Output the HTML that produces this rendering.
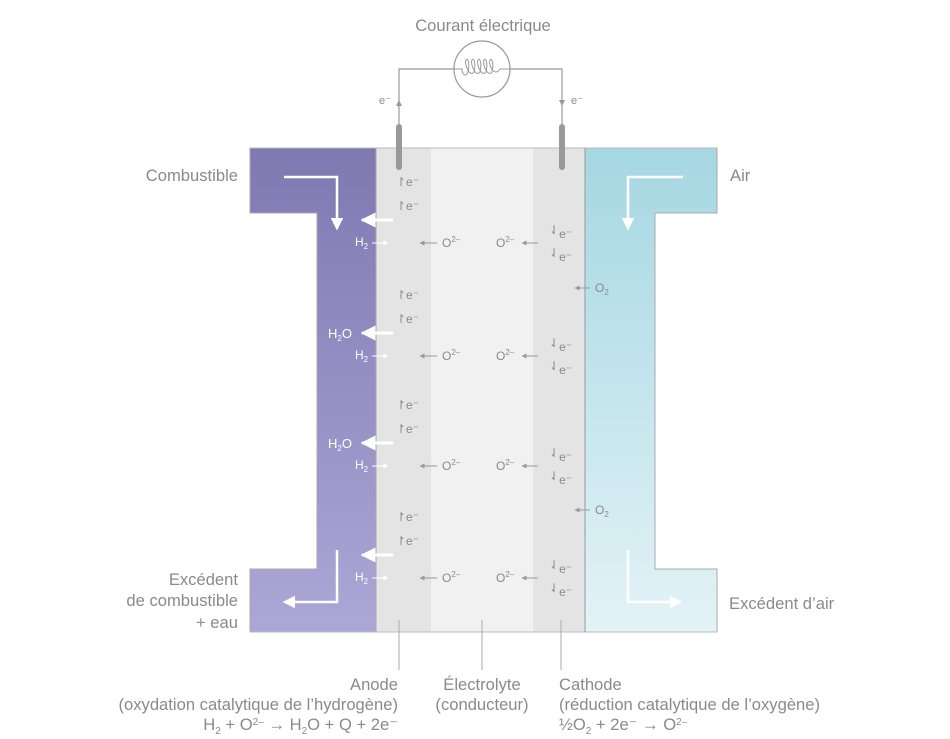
<!DOCTYPE html>
<html><head><meta charset="utf-8"><style>
body{margin:0;background:#fff}
svg{display:block;font-family:"Liberation Sans",sans-serif}
.t{fill:#8a8a8a}
.w{fill:#fff}
.L{font-size:16.6px}
</style></head><body>
<svg width="950" height="739" viewBox="0 0 950 739" xmlns="http://www.w3.org/2000/svg">
<defs>
<linearGradient id="gp" x1="0" y1="148" x2="0" y2="632" gradientUnits="userSpaceOnUse"><stop offset="0" stop-color="#7f79b2"/><stop offset="1" stop-color="#aba7d6"/></linearGradient>
<linearGradient id="gc" x1="0" y1="148" x2="0" y2="632" gradientUnits="userSpaceOnUse"><stop offset="0" stop-color="#a5d7e2"/><stop offset="1" stop-color="#e3f3f7"/></linearGradient>
<marker id="ag" viewBox="0 0 10 10" refX="9" refY="5" markerWidth="5" markerHeight="5" orient="auto"><path d="M0,0L10,5L0,10z" fill="#999"/></marker>
<marker id="aw" viewBox="0 0 10 10" refX="9" refY="5" markerWidth="5" markerHeight="5" orient="auto"><path d="M0,0L10,5L0,10z" fill="#fff"/></marker>
<marker id="aW" viewBox="0 0 10 10" refX="8" refY="5" markerWidth="5" markerHeight="5" orient="auto"><path d="M0,0L10,5L0,10z" fill="#fff"/></marker>
</defs>
<text x="483" y="31" class="t L" text-anchor="middle">Courant électrique</text>
<polyline points="399,125 399,69 454,69" fill="none" stroke="#999" stroke-width="1.2"/>
<polyline points="510,69 562,69 562,125" fill="none" stroke="#999" stroke-width="1.2"/>
<circle cx="482" cy="69" r="28" fill="none" stroke="#999" stroke-width="1.2"/>
<path d="M454,69 H462 C462,74 466,78 468,72 C470,64 468,57 466,60 C464,64 470,78 474,72 C476,64 474,57 472,60 C470,64 476,78 480,72 C482,64 480,57 478,60 C476,64 482,78 486,72 C488,64 486,57 484,60 C482,64 488,78 492,72 C494,64 492,57 490,60 C488,64 494,78 500,69 H510" fill="none" stroke="#999" stroke-width="1"/>
<path d="M399,100 L396,106 L402,106z" fill="#999"/>
<path d="M562,106 L559,100 L565,100z" fill="#999"/>
<text x="379" y="104" class="t" font-size="11">e⁻</text>
<text x="571" y="104" class="t" font-size="11">e⁻</text>
<path d="M250,148 H376 V632 H250 V569 H317 V213 H250 Z" fill="url(#gp)" stroke="#aaa" stroke-width="1"/>
<path d="M585,148 H717 V213 H655 V569 H717 V632 H585 Z" fill="url(#gc)" stroke="#aaa" stroke-width="1"/>
<rect x="376" y="148" width="55" height="484" fill="#e4e4e4"/>
<rect x="431" y="148" width="102" height="484" fill="#f1f1f1"/>
<rect x="533" y="148" width="52" height="484" fill="#e4e4e4"/>
<line x1="250" y1="148" x2="717" y2="148" stroke="#bbb"/>
<line x1="250" y1="632" x2="717" y2="632" stroke="#bbb"/>
<line x1="376" y1="148" x2="376" y2="632" stroke="#aaa"/>
<line x1="585" y1="148" x2="585" y2="632" stroke="#999"/>
<line x1="399" y1="127" x2="399" y2="167" stroke="#999" stroke-width="6" stroke-linecap="round"/>
<line x1="562" y1="127" x2="562" y2="167" stroke="#999" stroke-width="6" stroke-linecap="round"/>
<polyline points="284,177 337,177 337,228" fill="none" stroke="#fff" stroke-width="2.5" marker-end="url(#aW)"/>
<polyline points="337,550 337,602 285,602" fill="none" stroke="#fff" stroke-width="2.5" marker-end="url(#aW)"/>
<polyline points="683,177 628,177 628,228" fill="none" stroke="#fff" stroke-width="2.5" marker-end="url(#aW)"/>
<polyline points="628,550 628,602 680,602" fill="none" stroke="#fff" stroke-width="2.5" marker-end="url(#aW)"/>
<text x="238" y="181" class="t L" text-anchor="end">Combustible</text>
<text x="730" y="181" class="t L">Air</text>
<text x="238" y="585" class="t L" text-anchor="end">Excédent</text>
<text x="238" y="606" class="t L" text-anchor="end">de combustible</text>
<text x="238" y="628" class="t L" text-anchor="end">+ eau</text>
<text x="729" y="609" class="t L">Excédent d’air</text>
<line x1="590" y1="288" x2="575" y2="288" stroke="#999" marker-end="url(#ag)"/>
<text x="595" y="292" class="t" font-size="12">O<tspan font-size="8" dy="3">2</tspan></text>
<line x1="590" y1="510" x2="575" y2="510" stroke="#999" marker-end="url(#ag)"/>
<text x="595" y="514" class="t" font-size="12">O<tspan font-size="8" dy="3">2</tspan></text>
<g id="b1">
<text x="396" y="186" class="t" font-size="12">↾e⁻</text>
<text x="396" y="210" class="t" font-size="12">↾e⁻</text>
<line x1="393" y1="220" x2="362" y2="220" stroke="#fff" stroke-width="3" marker-end="url(#aw)"/>
<text x="355" y="246" class="w" font-size="12">H<tspan font-size="8" dy="3">2</tspan></text>
<line x1="372" y1="243" x2="388" y2="243" stroke="#fff" marker-end="url(#aw)"/>
<line x1="437" y1="243" x2="420" y2="243" stroke="#999" marker-end="url(#ag)"/>
<text x="442" y="247" class="t" font-size="12">O<tspan font-size="8" dy="-5">2–</tspan></text>
<text x="496" y="247" class="t" font-size="12">O<tspan font-size="8" dy="-5">2–</tspan></text>
<line x1="538" y1="243" x2="522" y2="243" stroke="#999" marker-end="url(#ag)"/>
<text x="549" y="234" class="t" font-size="12">⇃<tspan dy="4">e⁻</tspan></text>
<text x="549" y="257" class="t" font-size="12">⇃<tspan dy="4">e⁻</tspan></text>
</g>
<use href="#b1" y="113"/>
<use href="#b1" y="223"/>
<use href="#b1" y="335"/>
<text x="328" y="338" class="w" font-size="13">H<tspan font-size="8" dy="3">2</tspan><tspan dy="-3">O</tspan></text>
<text x="328" y="448" class="w" font-size="13">H<tspan font-size="8" dy="3">2</tspan><tspan dy="-3">O</tspan></text>
<line x1="399" y1="620" x2="399" y2="670" stroke="#aaa"/>
<line x1="482" y1="620" x2="482" y2="670" stroke="#aaa"/>
<line x1="561" y1="620" x2="561" y2="670" stroke="#aaa"/>
<text x="398" y="690" class="t L" text-anchor="end">Anode</text>
<text x="398" y="710" class="t L" text-anchor="end">(oxydation catalytique de l’hydrogène)</text>
<text x="398" y="730" class="t L" text-anchor="end">H<tspan font-size="10" dy="4">2</tspan><tspan dy="-4"> +  O</tspan><tspan font-size="10" dy="-5">2–</tspan><tspan dy="5"> → H</tspan><tspan font-size="10" dy="4">2</tspan><tspan dy="-4">O + Q + 2e⁻</tspan></text>
<text x="482" y="690" class="t L" text-anchor="middle">Électrolyte</text>
<text x="482" y="710" class="t L" text-anchor="middle">(conducteur)</text>
<text x="559" y="690" class="t L">Cathode</text>
<text x="559" y="710" class="t L">(réduction catalytique de l’oxygène)</text>
<text x="559" y="730" class="t L">½O<tspan font-size="10" dy="4">2</tspan><tspan dy="-4"> + 2e⁻ → O</tspan><tspan font-size="10" dy="-5">2–</tspan></text>
</svg>
</body></html>
